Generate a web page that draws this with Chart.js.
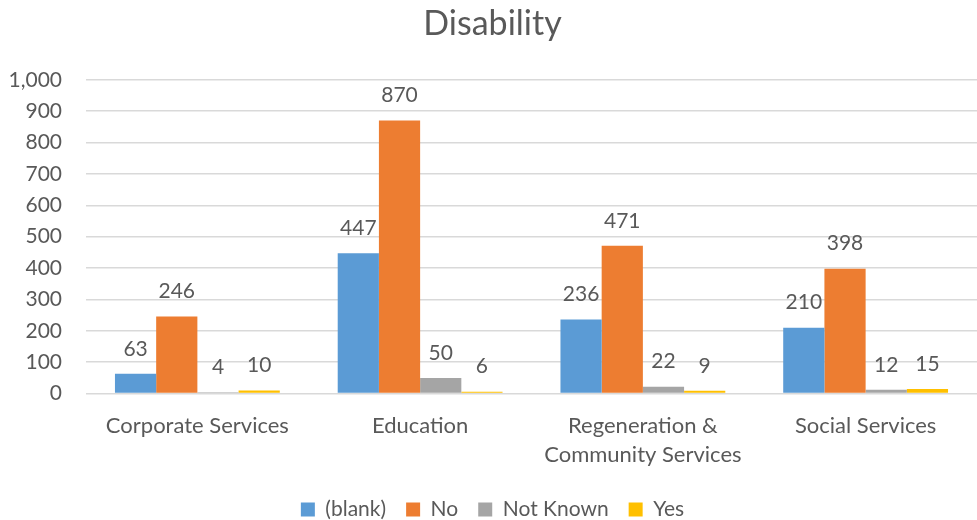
<!DOCTYPE html>
<html>
<head>
<meta charset="utf-8">
<script src="https://cdn.jsdelivr.net/npm/chart.js@4"></script>
<style>
    html, body { margin: 0; padding: 0; background: #fff; }
    #wrap { width: 977px; height: 520px; }
</style>
</head>
<body>
<div id="wrap"><canvas id="disabilityChart"></canvas></div>
<script>
const categories = ['Corporate Services', 'Education', ['Regeneration &', 'Community Services'], 'Social Services'];
const seriesNames = ['(blank)', 'No', 'Not Known', 'Yes'];
const blankValues = [63, 447, 236, 210];
const noValues = [246, 870, 471, 398];
const notKnownValues = [4, 50, 22, 12];
const yesValues = [10, 6, 9, 15];
const seriesColors = ['#5B9BD5', '#ED7D31', '#A5A5A5', '#FFC000'];

const textColor = '#595959';
const fontFamily = 'Lato, "Open Sans", sans-serif';

// draw value above each bar
const valueLabels = {
    id: 'valueLabels',
    afterDatasetsDraw(chart) {
        const ctx = chart.ctx;
        ctx.save();
        ctx.fillStyle = textColor;
        ctx.font = '21px ' + fontFamily;
        ctx.textAlign = 'center';
        ctx.textBaseline = 'middle';
        chart.data.datasets.forEach((ds, i) => {
            const meta = chart.getDatasetMeta(i);
            meta.data.forEach((bar, j) => {
                ctx.fillText(ds.data[j].toLocaleString('en-US'), bar.x, bar.y - 25);
            });
        });
        ctx.restore();
    }
};

const allValues = [blankValues, noValues, notKnownValues, yesValues];

new Chart(document.getElementById('disabilityChart'), {
    type: 'bar',
    data: {
        labels: categories,
        datasets: seriesNames.map((name, i) => ({
            label: name,
            data: allValues[i],
            backgroundColor: seriesColors[i],
            categoryPercentage: 0.74,
            barPercentage: 1.0
        }))
    },
    options: {
        responsive: true,
        maintainAspectRatio: false,
        animation: false,
        layout: { padding: { left: 8, right: 0, top: 0, bottom: -10 } },
        plugins: {
            title: {
                display: true,
                text: 'Disability',
                color: textColor,
                font: { family: fontFamily, size: 34, weight: 'normal' },
                padding: { top: 4, bottom: 35 }
            },
            legend: {
                position: 'bottom',
                labels: {
                    color: textColor,
                    font: { family: fontFamily, size: 21 },
                    boxWidth: 14,
                    boxHeight: 14,
                    padding: 20
                }
            },
            tooltip: { enabled: false }
        },
        scales: {
            x: {
                grid: { display: false },
                border: { display: false },
                ticks: {
                    color: textColor,
                    font: { family: fontFamily, size: 22, lineHeight: 1.35 },
                    maxRotation: 0,
                    padding: 9
                }
            },
            y: {
                min: 0,
                max: 1000,
                afterFit: axis => { axis.width = 78; },
                ticks: {
                    stepSize: 100,
                    color: textColor,
                    font: { family: fontFamily, size: 21 },
                    padding: 24,
                    callback: v => v.toLocaleString('en-US')
                },
                grid: { color: '#D9D9D9', lineWidth: 1.5, drawTicks: false },
                border: { display: false }
            }
        }
    },
    plugins: [valueLabels]
});
</script>
</body>
</html>
